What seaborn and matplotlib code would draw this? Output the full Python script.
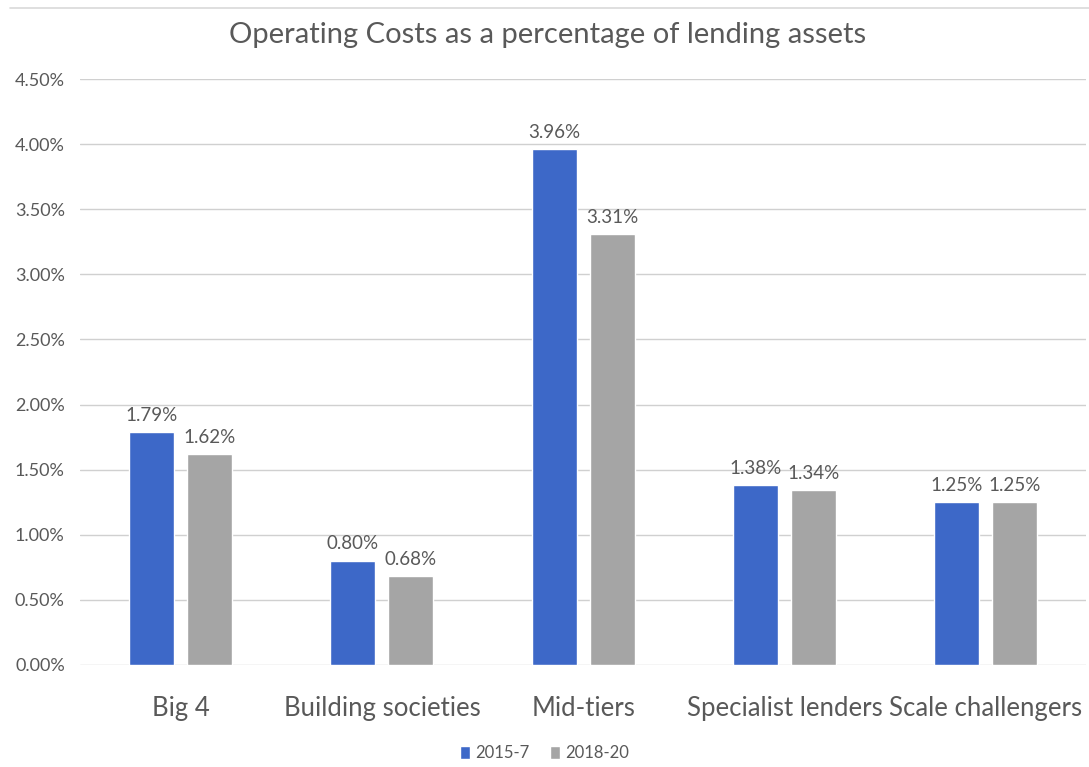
import matplotlib
matplotlib.use("Agg")
import matplotlib.pyplot as plt
from matplotlib.ticker import FuncFormatter
import seaborn as sns
import pandas as pd

categories = ["Big 4", "Building societies", "Mid-tiers", "Specialist lenders", "Scale challengers"]
series_names = ["2015-7", "2018-20"]
values_2015_7 = [1.79, 0.80, 3.96, 1.38, 1.25]
values_2018_20 = [1.62, 0.68, 3.31, 1.34, 1.25]
y_ticks = [0.0, 0.5, 1.0, 1.5, 2.0, 2.5, 3.0, 3.5, 4.0, 4.5]

df = pd.DataFrame({
    "category": categories * 2,
    "period": [series_names[0]] * len(categories) + [series_names[1]] * len(categories),
    "value": values_2015_7 + values_2018_20,
})

sns.set_theme(style="white")
plt.rcParams["font.family"] = ["Lato", "DejaVu Sans"]

text_color = "#595959"
palette = {"2015-7": "#3D68C8", "2018-20": "#A5A5A5"}

fig = plt.figure(figsize=(10.89, 7.67), dpi=100)
ax = fig.add_axes([0.0735, 0.133, 0.924, 0.764])

sns.barplot(data=df, x="category", y="value", hue="period", order=categories,
            hue_order=series_names, palette=palette, width=0.577, gap=0.224,
            saturation=1, ax=ax, legend=True)

ax.set_ylim(0, 4.5)
ax.set_yticks(y_ticks)
ax.yaxis.set_major_formatter(FuncFormatter(lambda v, _: f"{v:.2f}%"))
ax.set_xlim(-0.5, len(categories) - 0.5)
ax.grid(axis="y", color="#D0D0D0", linewidth=1.0)
ax.set_axisbelow(True)
for s in ax.spines.values():
    s.set_visible(False)
ax.tick_params(axis="y", labelsize=13, colors=text_color, length=0, pad=11)
ax.tick_params(axis="x", labelsize=18.5, colors=text_color, length=0, pad=22)
ax.set_xlabel("")
ax.set_ylabel("")

for cont in ax.containers:
    labels = [f"{b.get_height():.2f}%" for b in cont]
    ax.bar_label(cont, labels=labels, padding=6, fontsize=13.5, color=text_color)

fig.suptitle("Operating Costs as a percentage of lending assets", fontsize=21,
             color=text_color, x=0.503, y=0.955, va="center")

handles, labs = ax.get_legend_handles_labels()
ax.get_legend().remove()
fig.legend(handles, labs, loc="center", bbox_to_anchor=(0.5, 0.018), ncol=2,
           frameon=False, fontsize=12, handlelength=0.6, handleheight=0.9,
           handletextpad=0.3, columnspacing=1.2, labelcolor=text_color)

# thin border line across the top of the chart area
fig.add_artist(plt.Line2D([0.009, 1.0], [0.99, 0.99], color="#D9D9D9", linewidth=1.2))

fig.savefig("out.png", dpi=100, facecolor="white")
